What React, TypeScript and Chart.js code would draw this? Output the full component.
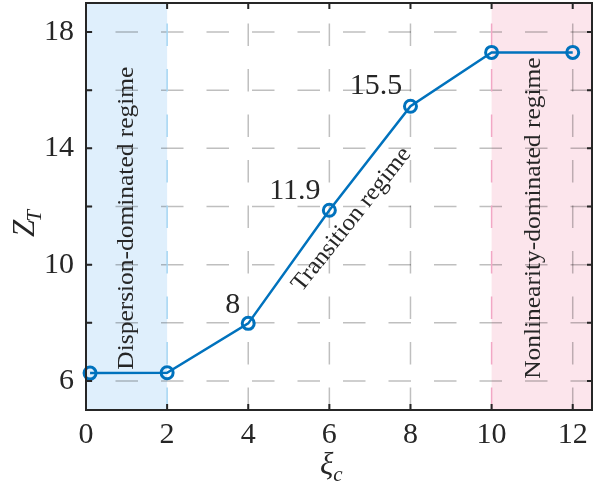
import React, { useEffect, useRef } from "react";
import { Chart, registerables } from "chart.js";

Chart.register(...registerables);

// ---- data ----
const xiValues = [0.1, 2, 4, 6, 8, 10, 12];
const ztValues = [6.27, 6.28, 7.98, 11.87, 15.45, 17.3, 17.3];
const xTicks = [0, 2, 4, 6, 8, 10, 12];
const yTicks = [6, 8, 10, 12, 14, 16, 18];
const yTickLabels = [6, 10, 14, 18];
const pointLabelTexts = ["8", "11.9", "15.5"];
const pointLabelAt = [
  [3.62, 8.6],
  [5.15, 12.53],
  [7.15, 16.14],
];
const regimeNames = ["Dispersion-dominated regime", "Transition regime", "Nonlinearity-dominated regime"];
const dispersionSpan = [0, 2];
const nonlinearSpan = [10, 12.5];

const SERIF = "'Liberation Serif', serif";
const INK = "#262626";
const TICK_SIZE = 30;

function drawStretched(ctx: any, text: string, cx: number, cy: number, angle: number, sx: number) {
  ctx.save();
  ctx.translate(cx, cy);
  ctx.rotate(angle);
  ctx.scale(sx, 1);
  ctx.fillText(text, 0, 0);
  ctx.restore();
}

const decor = {
  id: "decor",
  beforeDatasetsDraw(chart: any) {
    const { ctx, chartArea: a, scales } = chart;
    const x = scales.x;
    const y = scales.y;
    ctx.save();
    // shaded regimes
    ctx.fillStyle = "#dfeffc";
    const b0 = x.getPixelForValue(dispersionSpan[0]);
    const b1 = x.getPixelForValue(dispersionSpan[1]);
    ctx.fillRect(b0, a.top, b1 - b0, a.bottom - a.top);
    ctx.fillStyle = "#fce5ec";
    const p0 = x.getPixelForValue(nonlinearSpan[0]);
    const p1 = x.getPixelForValue(nonlinearSpan[1]);
    ctx.fillRect(p0, a.top, p1 - p0, a.bottom - a.top);

    // grid
    ctx.lineWidth = 1.5;
    ctx.setLineDash([22.5, 23]);
    ctx.strokeStyle = "rgba(0,0,0,0.25)";
    for (const v of yTicks) {
      const yy = y.getPixelForValue(v);
      ctx.beginPath();
      ctx.moveTo(a.right, yy);
      ctx.lineTo(a.left, yy);
      ctx.stroke();
    }
    for (const v of xTicks) {
      if (v === 0) continue;
      const xx = x.getPixelForValue(v);
      ctx.strokeStyle = v === dispersionSpan[1] ? "#a6d6f3" : v === nonlinearSpan[0] ? "#f2a7c5" : "rgba(0,0,0,0.25)";
      ctx.beginPath();
      ctx.moveTo(xx, a.bottom);
      ctx.lineTo(xx, a.top);
      ctx.stroke();
    }
    ctx.restore();

    // regime labels
    ctx.save();
    ctx.fillStyle = INK;
    ctx.font = `24px ${SERIF}`;
    ctx.textAlign = "center";
    ctx.textBaseline = "middle";
    const midY = y.getPixelForValue(11.6);
    drawStretched(ctx, regimeNames[0], x.getPixelForValue(1.0), midY, -Math.PI / 2, 1.06);
    drawStretched(ctx, regimeNames[2], x.getPixelForValue(11.05), midY, -Math.PI / 2, 1.06);
    drawStretched(
      ctx,
      regimeNames[1],
      x.getPixelForValue(6.55),
      y.getPixelForValue(11.55),
      (-51.5 * Math.PI) / 180,
      1.04
    );
    ctx.restore();
  },
  afterDatasetsDraw(chart: any) {
    const { ctx, chartArea: a, scales } = chart;
    const x = scales.x;
    const y = scales.y;
    ctx.save();
    // box
    ctx.strokeStyle = INK;
    ctx.lineWidth = 2;
    ctx.setLineDash([]);
    ctx.strokeRect(a.left, a.top, a.right - a.left - 1, a.bottom - a.top);
    // inward ticks
    const tl = 6;
    ctx.beginPath();
    for (const v of xTicks) {
      const xx = x.getPixelForValue(v);
      ctx.moveTo(xx, a.bottom);
      ctx.lineTo(xx, a.bottom - tl);
      ctx.moveTo(xx, a.top);
      ctx.lineTo(xx, a.top + tl);
    }
    for (const v of yTicks) {
      const yy = y.getPixelForValue(v);
      ctx.moveTo(a.left, yy);
      ctx.lineTo(a.left + tl, yy);
      ctx.moveTo(a.right, yy);
      ctx.lineTo(a.right - tl, yy);
    }
    ctx.stroke();

    // value labels
    ctx.fillStyle = INK;
    ctx.font = `${TICK_SIZE}px ${SERIF}`;
    ctx.textAlign = "center";
    ctx.textBaseline = "middle";
    pointLabelTexts.forEach((t, i) => {
      ctx.fillText(t, x.getPixelForValue(pointLabelAt[i][0]), y.getPixelForValue(pointLabelAt[i][1]));
    });

    // axis titles
    ctx.textAlign = "left";
    ctx.textBaseline = "alphabetic";
    ctx.font = `italic 31px ${SERIF}`;
    ctx.fillText("ξ", 320, 474);
    const wXi = ctx.measureText("ξ").width;
    ctx.font = `italic 21px ${SERIF}`;
    ctx.fillText("c", 320 + wXi, 481);
    ctx.save();
    ctx.translate(34, 237);
    ctx.rotate(-Math.PI / 2);
    ctx.font = `italic 31px ${SERIF}`;
    ctx.fillText("Z", 0, 0);
    const wZ = ctx.measureText("Z").width;
    ctx.font = `italic 21px ${SERIF}`;
    ctx.fillText("T", wZ - 2, 7);
    ctx.restore();
    ctx.restore();
  },
};

const zeroPad = (s: any) => {
  s.paddingTop = 0;
  s.paddingBottom = 0;
  s.paddingLeft = 0;
  s.paddingRight = 0;
};

export default function App() {
  const ref = useRef<HTMLCanvasElement>(null);
  useEffect(() => {
    let chart: any = null;
    let cancelled = false;
    const build = () => {
      if (cancelled) return;
      const canvas = ref.current!;
      chart = new Chart(canvas, {
        type: "line",
        data: {
          datasets: [
            {
              data: xiValues.map((v, i) => ({ x: v, y: ztValues[i] })),
              borderColor: "#0072BD",
              borderWidth: 2.5,
              pointRadius: 6,
              pointBorderWidth: 3,
              pointBackgroundColor: "rgba(0,0,0,0)",
              pointBorderColor: "#0072BD",
              tension: 0,
              clip: false as any,
            },
          ],
        },
        options: {
          responsive: false,
          devicePixelRatio: 1,
          animation: false,
          layout: { autoPadding: false, padding: { top: 3, left: 0, right: 0, bottom: 0 } },
          plugins: { legend: { display: false }, tooltip: { enabled: false } },
          scales: {
            x: {
              type: "linear",
              min: 0,
              max: 12.5,
              grid: { display: false, drawTicks: false },
              border: { display: false },
              afterBuildTicks: (s: any) => {
                s.ticks = xTicks.map((v) => ({ value: v }));
              },
              afterFit: (s: any) => {
                s.height = 76;
                zeroPad(s);
              },
              ticks: {
                autoSkip: false,
                maxRotation: 0,
                padding: 7,
                color: INK,
                font: { family: SERIF, size: TICK_SIZE },
                callback: (v: any) => String(v),
              },
            },
            y: {
              type: "linear",
              min: 5,
              max: 19,
              grid: { display: false, drawTicks: false },
              border: { display: false },
              afterBuildTicks: (s: any) => {
                s.ticks = yTicks.map((v) => ({ value: v }));
              },
              afterFit: (s: any) => {
                s.width = 86;
                zeroPad(s);
              },
              ticks: {
                autoSkip: false,
                padding: 12,
                color: INK,
                font: { family: SERIF, size: TICK_SIZE },
                callback: (v: any) => (yTickLabels.includes(Number(v)) ? String(v) : ""),
              },
            },
          },
        },
        plugins: [decor],
      });
    };
    const fonts: any = (document as any).fonts;
    if (fonts && fonts.load) {
      Promise.all([
        fonts.load(`30px 'Liberation Serif'`),
        fonts.load(`italic 30px 'Liberation Serif'`),
      ])
        .catch(() => null)
        .then(build);
    } else {
      build();
    }
    return () => {
      cancelled = true;
      if (chart) chart.destroy();
    };
  }, []);
  return (
    <div style={{ position: "absolute", left: 0, top: 0, width: 593, height: 486, background: "#fff" }}>
      <canvas ref={ref} width={593} height={486} style={{ display: "block" }} />
    </div>
  );
}
